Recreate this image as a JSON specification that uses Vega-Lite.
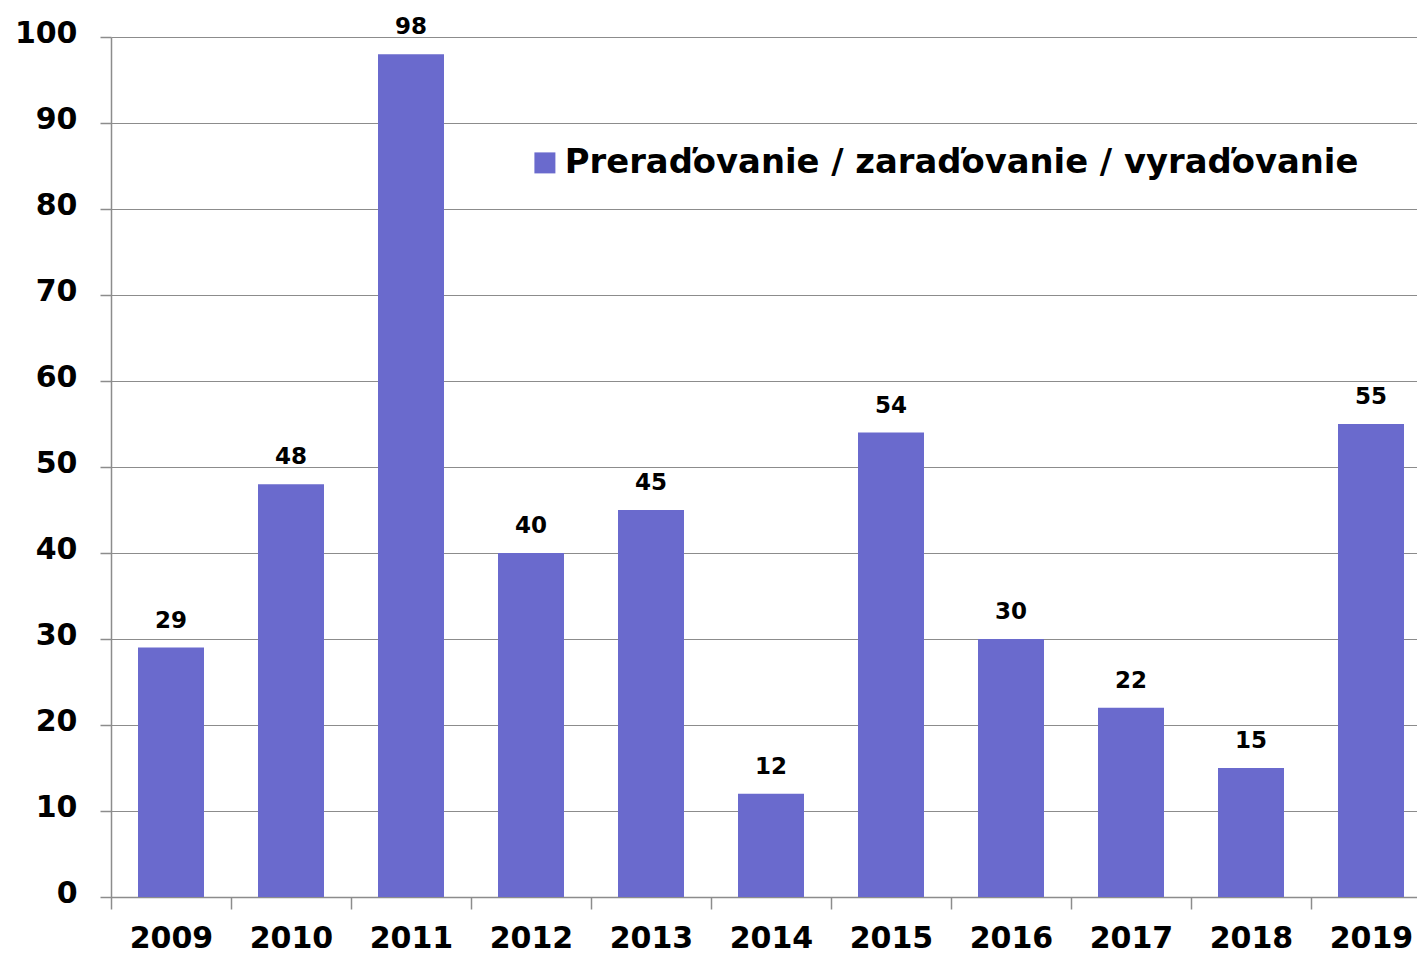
{
  "$schema": "https://vega.github.io/schema/vega-lite/v6.json",
  "autosize": "none",
  "width": 1306,
  "height": 860,
  "padding": {"left": 111, "top": 37, "right": 0, "bottom": 64},
  "background": "white",
  "config": {
    "view": {"stroke": null},
    "font": "DejaVu Sans",
    "axis": {"domainColor": "#8c8c8c", "tickColor": "#8c8c8c", "gridColor": "#8c8c8c", "domainWidth": 1.5, "tickWidth": 1.5, "gridWidth": 1.2, "labelColor": "black", "labelFontWeight": "bold", "labelFont": "DejaVu Sans"}
  },
  "data": {
    "values": [
      {"year": "2009", "value": 29, "series": "Preraďovanie / zaraďovanie / vyraďovanie"},
      {"year": "2010", "value": 48, "series": "Preraďovanie / zaraďovanie / vyraďovanie"},
      {"year": "2011", "value": 98, "series": "Preraďovanie / zaraďovanie / vyraďovanie"},
      {"year": "2012", "value": 40, "series": "Preraďovanie / zaraďovanie / vyraďovanie"},
      {"year": "2013", "value": 45, "series": "Preraďovanie / zaraďovanie / vyraďovanie"},
      {"year": "2014", "value": 12, "series": "Preraďovanie / zaraďovanie / vyraďovanie"},
      {"year": "2015", "value": 54, "series": "Preraďovanie / zaraďovanie / vyraďovanie"},
      {"year": "2016", "value": 30, "series": "Preraďovanie / zaraďovanie / vyraďovanie"},
      {"year": "2017", "value": 22, "series": "Preraďovanie / zaraďovanie / vyraďovanie"},
      {"year": "2018", "value": 15, "series": "Preraďovanie / zaraďovanie / vyraďovanie"},
      {"year": "2019", "value": 55, "series": "Preraďovanie / zaraďovanie / vyraďovanie"}
    ]
  },
  "encoding": {
    "x": {
      "field": "year", "type": "nominal", "sort": null,
      "scale": {"range": [0, 1320], "paddingInner": 0, "paddingOuter": 0},
      "axis": {"title": null, "labelAngle": 0, "labelFontSize": 30, "tickSize": 12, "tickBand": "extent", "labelPadding": 14, "grid": false}
    },
    "y": {
      "field": "value", "type": "quantitative",
      "scale": {"domain": [0, 100], "nice": false},
      "axis": {"title": null, "values": [0, 10, 20, 30, 40, 50, 60, 70, 80, 90, 100], "labelFontSize": 30, "tickSize": 11, "labelPadding": 23, "labelOffset": -4, "grid": true}
    }
  },
  "layer": [
    {
      "mark": {"type": "bar", "width": {"band": 0.55}},
      "encoding": {
        "color": {
          "field": "series", "type": "nominal",
          "scale": {"range": ["#6a6acd"]},
          "legend": {"title": null, "orient": "none", "legendX": 417, "legendY": 109, "padding": 0, "symbolType": "square", "symbolSize": 441, "symbolStrokeWidth": 0, "labelFontSize": 33.8, "labelFont": "DejaVu Sans", "labelFontWeight": "bold", "labelColor": "black", "labelOffset": 3, "labelLimit": 0}
        }
      }
    },
    {
      "mark": {"type": "text", "baseline": "alphabetic", "dy": -20, "fontSize": 23, "fontWeight": "bold", "font": "DejaVu Sans", "color": "black"},
      "encoding": {"text": {"field": "value", "type": "quantitative"}}
    }
  ]
}
